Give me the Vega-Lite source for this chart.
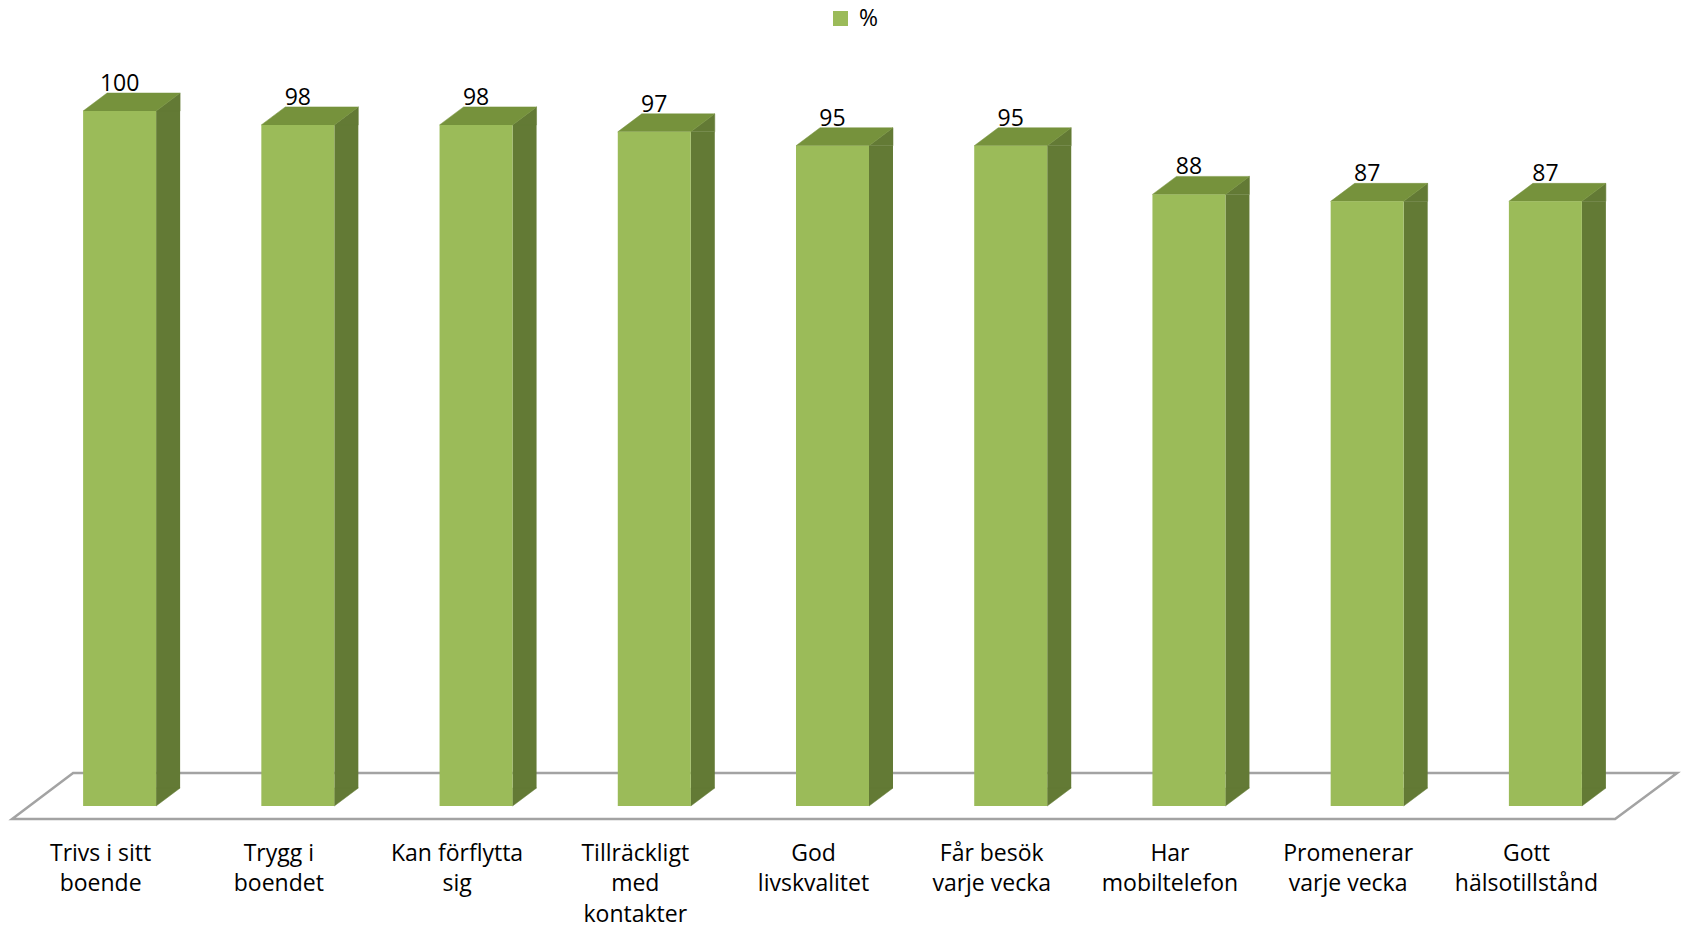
{
  "$schema": "https://vega.github.io/schema/vega-lite/v6.json",
  "width": 1604,
  "height": 695,
  "autosize": {"type": "none"},
  "padding": {"left": 30.5, "top": 111, "right": 48.5, "bottom": 123},
  "background": "white",
  "config": {"view": {"stroke": null}, "font": "Open Sans"},
  "data": {
    "values": [
      {"kategori": "Trivs i sitt\nboende", "andel": 100, "serie": "%"},
      {"kategori": "Trygg i\nboendet", "andel": 98, "serie": "%"},
      {"kategori": "Kan förflytta\nsig", "andel": 98, "serie": "%"},
      {"kategori": "Tillräckligt\nmed\nkontakter", "andel": 97, "serie": "%"},
      {"kategori": "God\nlivskvalitet", "andel": 95, "serie": "%"},
      {"kategori": "Får besök\nvarje vecka", "andel": 95, "serie": "%"},
      {"kategori": "Har\nmobiltelefon", "andel": 88, "serie": "%"},
      {"kategori": "Promenerar\nvarje vecka", "andel": 87, "serie": "%"},
      {"kategori": "Gott\nhälsotillstånd", "andel": 87, "serie": "%"}
    ]
  },
  "encoding": {
    "x": {
      "field": "kategori",
      "type": "nominal",
      "sort": null,
      "scale": {"paddingInner": 0, "paddingOuter": 0},
      "axis": {
        "title": null,
        "ticks": false,
        "tickSize": 0,
        "domain": false,
        "grid": false,
        "labelAngle": 0,
        "labelPadding": 36,
        "labelOffset": -19,
        "labelFont": "Open Sans",
        "labelFontSize": 23,
        "labelColor": "#000000",
        "labelLineHeight": 30.5,
        "labelBaseline": "top",
        "labelLimit": 0,
        "labelOverlap": false,
        "labelExpr": "split(datum.label, '\\n')"
      }
    },
    "y": {"field": "andel", "type": "quantitative", "scale": {"domain": [0, 100], "nice": false}, "axis": null}
  },
  "layer": [
    {
      "transform": [{"filter": "datum.andel == 100"}],
      "mark": {
        "type": "point",
        "shape": "M -107.5 708 L 1495.5 708 L 1557.5 662 L -46.5 662 Z",
        "size": 4,
        "filled": false,
        "stroke": "#a3a3a3",
        "strokeWidth": 2.5,
        "opacity": 1
      }
    },
    {
      "mark": {"type": "bar", "width": 24, "xOffset": 48.5, "y2Offset": -18, "color": "#637A35"},
      "encoding": {"y2": {"datum": 0}}
    },
    {
      "mark": {
        "type": "point",
        "shape": "M 36.5 0 L 60.5 -18 L 60.5 0 Z",
        "size": 4,
        "filled": true,
        "fill": "#637A35",
        "stroke": "#637A35",
        "strokeWidth": 0.5,
        "opacity": 1
      }
    },
    {
      "mark": {
        "type": "point",
        "shape": "M 36.5 -18 L 60.5 -18 L 36.5 0 Z",
        "size": 4,
        "filled": true,
        "fill": "#637A35",
        "stroke": "#637A35",
        "strokeWidth": 0.5,
        "opacity": 1
      },
      "encoding": {"y": {"value": "height"}}
    },
    {
      "mark": {
        "type": "point",
        "shape": "M -36.5 0 L 36.5 0 L 60.5 -18 L -12.5 -18 Z",
        "size": 4,
        "filled": true,
        "fill": "#76923C",
        "stroke": "#76923C",
        "strokeWidth": 0.5,
        "opacity": 1
      }
    },
    {
      "mark": {"type": "bar", "width": 73},
      "encoding": {
        "color": {
          "field": "serie",
          "type": "nominal",
          "scale": {"domain": ["%"], "range": ["#9BBB59"]},
          "legend": {
            "title": null,
            "orient": "none",
            "legendX": 798.5,
            "legendY": -104,
            "symbolType": "square",
            "symbolSize": 225,
            "symbolStrokeWidth": 0,
            "labelFont": "Open Sans",
            "labelFontSize": 23,
            "labelColor": "#000000",
            "labelOffset": 7
          }
        }
      }
    },
    {
      "mark": {"type": "text", "dy": -20, "align": "center", "baseline": "alphabetic", "font": "Open Sans", "fontSize": 23, "color": "#000000"},
      "encoding": {
        "text": {"field": "andel", "type": "quantitative"}
      }
    }
  ]
}
